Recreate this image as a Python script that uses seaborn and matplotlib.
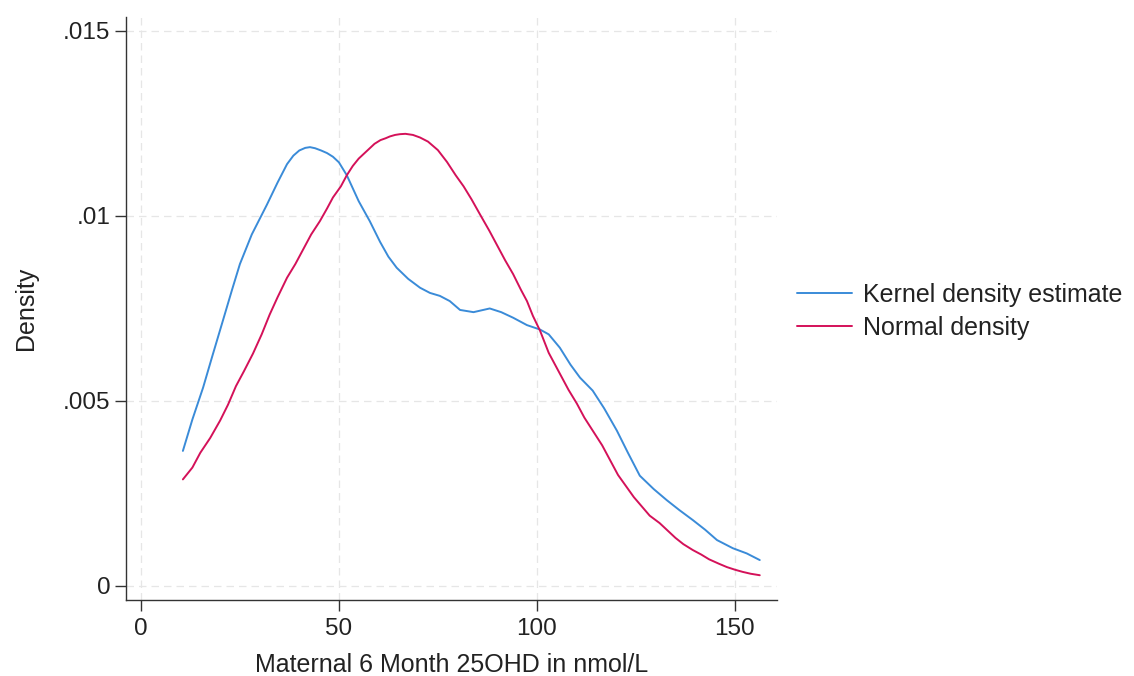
import matplotlib
matplotlib.use("Agg")
import matplotlib.pyplot as plt
import seaborn as sns
import pandas as pd

# values
kde_x = [10.6, 13.0, 15.7, 18.0, 20.7, 23.0, 25.0, 28.0, 31.8, 34.5, 36.9, 38.5, 40.0, 41.5,
         42.7, 44.0, 45.5, 47.0, 48.5, 50.0, 52.0, 55.0, 57.8, 60.4, 62.5, 64.6, 67.5, 70.5,
         73.0, 75.5, 78.0, 80.6, 84.0, 88.1, 91.0, 94.0, 97.5, 100.8, 103.0, 105.8, 108.5,
         110.9, 114.1, 117.0, 120.2, 123.0, 126.0, 129.5, 132.8, 136.0, 139.4, 142.5, 145.5,
         149.5, 153.0, 156.3]
kde_y = [0.00365, 0.0045, 0.00536, 0.0062, 0.00717, 0.0080, 0.0087, 0.0095, 0.0103, 0.0109,
         0.0114, 0.01163, 0.01177, 0.01184, 0.01186, 0.01183, 0.01177, 0.0117, 0.0116,
         0.01145, 0.0111, 0.0104, 0.00986, 0.0093, 0.0089, 0.0086, 0.0083, 0.00806, 0.00792,
         0.00784, 0.0077, 0.00746, 0.0074, 0.0075, 0.0074, 0.00725, 0.00705, 0.00693,
         0.0068, 0.00644, 0.00598, 0.00563, 0.00528, 0.0048, 0.0042, 0.0036, 0.00298, 0.00262,
         0.00232, 0.00205, 0.00178, 0.00152, 0.00124, 0.00102, 0.00088, 0.0007]

norm_x = [10.6, 13.0, 15.0, 17.5, 20.0, 22.0, 24.0, 26.0, 28.3, 30.5, 32.5, 34.5, 36.9, 39.0,
          41.0, 43.0, 45.2, 47.0, 48.5, 50.5, 52.0, 53.5, 55.0, 56.5, 57.8, 59.0, 60.5, 61.8,
          62.9, 64.2, 65.4, 66.8, 68.7, 70.5, 72.5, 75.0, 77.3, 79.5, 81.5, 83.5, 85.6, 88.0,
          90.0, 92.0, 94.0, 96.0, 97.5, 99.0, 100.8, 103.0, 105.8, 108.0, 110.1, 112.0, 114.1,
          116.5, 118.5, 120.5, 122.7, 124.5, 126.5, 128.5, 131.0, 133.0, 135.0, 137.0, 139.4,
          141.5, 143.5, 146.0, 148.0, 150.0, 152.0, 154.0, 156.3]
norm_y = [0.00288, 0.0032, 0.0036, 0.004, 0.00447, 0.0049, 0.0054, 0.0058, 0.00628, 0.0068,
          0.00733, 0.0078, 0.00833, 0.0087, 0.0091, 0.0095, 0.00986, 0.0102, 0.0105, 0.0108,
          0.0111, 0.01135, 0.01155, 0.0117, 0.01183, 0.01195, 0.01205, 0.0121, 0.01215,
          0.01219, 0.01221, 0.01222, 0.01219, 0.01212, 0.01201, 0.01178, 0.01146, 0.0111,
          0.0108, 0.01045, 0.01005, 0.0096, 0.0092, 0.0088, 0.00843, 0.008, 0.0077, 0.0073,
          0.0069, 0.0063, 0.00574, 0.0053, 0.00493, 0.00455, 0.0042, 0.0038, 0.0034, 0.003,
          0.00267, 0.0024, 0.00215, 0.0019, 0.0017, 0.0015, 0.0013, 0.00113, 0.00097, 0.00085,
          0.00072, 0.0006, 0.00051, 0.00044, 0.00038, 0.00033, 0.00029]

x_ticks = [0, 50, 100, 150]
y_ticks = [0, 0.005, 0.01, 0.015]
y_labels = ["0", ".005", ".01", ".015"]

df_kde = pd.DataFrame({"x": kde_x, "y": kde_y})
df_norm = pd.DataFrame({"x": norm_x, "y": norm_y})

sns.set_style("white")
plt.rcParams["font.family"] = ["Liberation Sans", "DejaVu Sans"]

fig = plt.figure(figsize=(11.34, 6.76), dpi=100)
ax = fig.add_axes([0.111, 0.1124, 0.574, 0.8626])

blue = "#3a8bd8"
red = "#d41159"
sns.lineplot(data=df_kde, x="x", y="y", ax=ax, color=blue, linewidth=1.4,
             label="Kernel density estimate", sort=False)
sns.lineplot(data=df_norm, x="x", y="y", ax=ax, color=red, linewidth=1.4,
             label="Normal density", sort=False)

ax.set_xlim(-3.8, 160.6)
ax.set_ylim(-0.00038, 0.01538)
ax.set_xticks(x_ticks)
ax.set_yticks(y_ticks)
ax.set_yticklabels(y_labels)
ax.grid(True, linestyle=(0, (6, 4)), color="#e6e6e6", linewidth=0.9)
ax.set_axisbelow(True)

for s in ["top", "right"]:
    ax.spines[s].set_visible(False)
for s in ["left", "bottom"]:
    ax.spines[s].set_color("#333333")
    ax.spines[s].set_linewidth(1.0)
ax.tick_params(axis="both", direction="out", length=8, width=1.0, color="#333333",
               labelsize=17.5, labelcolor="#222222", pad=3, left=True, bottom=True)
ax.tick_params(axis="x", pad=5)

ax.set_xlabel("Maternal 6 Month 25OHD in nmol/L", fontsize=18, color="#222222", labelpad=9)
ax.set_ylabel("Density", fontsize=18, color="#222222", labelpad=18)

leg = ax.legend(loc="center left", bbox_to_anchor=(1.031, 0.495), frameon=False,
                fontsize=18, handlelength=2.2, handletextpad=0.45, labelspacing=0.35,
                borderpad=0, borderaxespad=0)
for t in leg.get_texts():
    t.set_color("#222222")

fig.savefig("out.png", dpi=100, facecolor="white")
